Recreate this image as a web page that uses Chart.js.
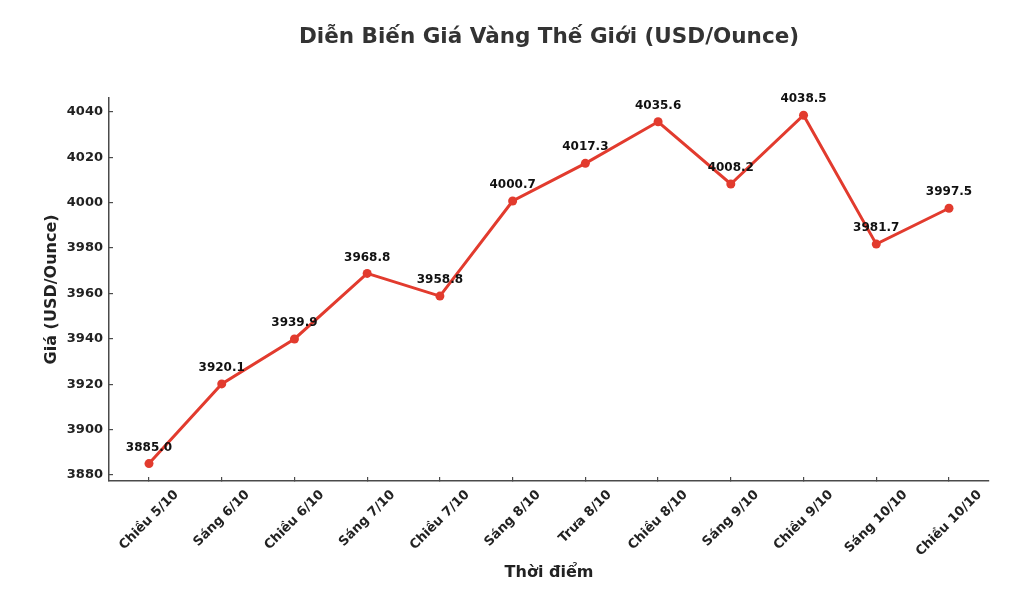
<!DOCTYPE html>
<html>
<head>
<meta charset="utf-8">
<script src="https://cdn.jsdelivr.net/npm/chart.js@4.4.1/dist/chart.umd.min.js"></script>
<style>
  html, body { margin: 0; padding: 0; background: #fff; }
  #wrap { width: 1024px; height: 594px; }
</style>
</head>
<body>
<div id="wrap"><canvas id="goldChart" width="1024" height="594"></canvas></div>
<script>
const Time_labels = ["Chiều 5/10", "Sáng 6/10", "Chiều 6/10", "Sáng 7/10", "Chiều 7/10", "Sáng 8/10",
                     "Trưa 8/10", "Chiều 8/10", "Sáng 9/10", "Chiều 9/10", "Sáng 10/10", "Chiều 10/10"];
const Gold_prices = [3885.0, 3920.1, 3939.9, 3968.8, 3958.8, 4000.7, 4017.3, 4035.6, 4008.2, 4038.5, 3981.7, 3997.5];
const Y_ticks = [3880, 3900, 3920, 3940, 3960, 3980, 4000, 4020, 4040];

const Font_family = '"DejaVu Sans", Verdana, sans-serif';
const Line_color = '#e23b2e';
const Axis_color = '#4a4a4a';
const Text_color = '#222222';

// matplotlib style 5% margins around the data
const x_pad = (Time_labels.length - 1) * 0.05;
const y_lo = Math.min(...Gold_prices), y_hi = Math.max(...Gold_prices);
const y_pad = (y_hi - y_lo) * 0.05;

// value labels above each point
const point_labels = {
  id: 'pointLabels',
  afterDatasetsDraw(chart) {
    const ctx = chart.ctx;
    const meta = chart.getDatasetMeta(0);
    ctx.save();
    ctx.font = 'bold 12px ' + Font_family;
    ctx.fillStyle = '#111';
    ctx.textAlign = 'center';
    ctx.textBaseline = 'middle';
    meta.data.forEach((pt, i) => {
      ctx.fillText(Gold_prices[i].toFixed(1), pt.x, pt.y - 16);
    });
    ctx.restore();
  }
};

// rotated x labels, centred under their tick like matplotlib
const x_tick_labels = {
  id: 'xTickLabels',
  afterDraw(chart) {
    const ctx = chart.ctx;
    const xs = chart.scales.x;
    const size = 13;
    ctx.save();
    ctx.font = 'bold ' + size + 'px ' + Font_family;
    ctx.fillStyle = Text_color;
    ctx.textAlign = 'center';
    ctx.textBaseline = 'middle';
    Time_labels.forEach((lab, i) => {
      const x = xs.getPixelForValue(i);
      const w = ctx.measureText(lab).width;
      const half = (w + size) * Math.SQRT1_2 / 2;
      ctx.save();
      ctx.translate(x, xs.top + 7 + half);
      ctx.rotate(-Math.PI / 4);
      ctx.fillText(lab, 0, 0);
      ctx.restore();
    });
    ctx.restore();
  }
};

new Chart("goldChart", {
  type: "line",
  data: {
    datasets: [{
      label: "Giá vàng",
      data: Gold_prices.map((v, i) => ({x: i, y: v})),
      borderColor: Line_color,
      backgroundColor: Line_color,
      borderWidth: 3,
      pointRadius: 4.5,
      pointBorderWidth: 0,
      pointBackgroundColor: Line_color,
      tension: 0,
    }]
  },
  options: {
    responsive: false,
    devicePixelRatio: 1,
    animation: false,
    layout: {padding: {left: 0, right: 35, top: 0, bottom: 0}},
    plugins: {
      legend: {display: false},
      tooltip: {enabled: false},
      title: {
        display: true,
        fullSize: false,
        text: "Diễn Biến Giá Vàng Thế Giới (USD/Ounce)",
        color: '#333333',
        font: {family: Font_family, size: 21.5, weight: 'bold'},
        padding: {top: 25, bottom: 47},
      },
    },
    scales: {
      x: {
        type: 'linear',
        min: -x_pad,
        max: Time_labels.length - 1 + x_pad,
        afterBuildTicks: scale => { scale.ticks = Time_labels.map((_, i) => ({value: i})); },
        afterFit: scale => { scale.height = 113; },
        grid: {display: true, drawOnChartArea: false, drawTicks: true, tickLength: -4, color: Axis_color, lineWidth: 1.2},
        border: {display: true, color: Axis_color, width: 1.5},
        ticks: {display: false},
        title: {
          display: true, text: "Thời điểm", color: Text_color,
          font: {family: Font_family, size: 16, weight: 'bold'},
          padding: {top: 0, bottom: 12},
        },
      },
      y: {
        type: 'linear',
        min: y_lo - y_pad,
        max: y_hi + y_pad,
        afterBuildTicks: scale => { scale.ticks = Y_ticks.map(v => ({value: v})); },
        afterFit: scale => { scale.width = 109; },
        grid: {display: true, drawOnChartArea: false, drawTicks: true, tickLength: -4, color: Axis_color, lineWidth: 1.2},
        border: {display: true, color: Axis_color, width: 1.5},
        ticks: {
          color: Text_color, padding: 10,
          font: {family: Font_family, size: 13, weight: 'bold'},
          callback: v => String(v),
        },
        title: {
          display: true, text: "Giá (USD/Ounce)", color: Text_color,
          font: {family: Font_family, size: 16, weight: 'bold'},
          padding: {top: 42, bottom: 0},
        },
      },
    },
  },
  plugins: [point_labels, x_tick_labels],
});
</script>
</body>
</html>
